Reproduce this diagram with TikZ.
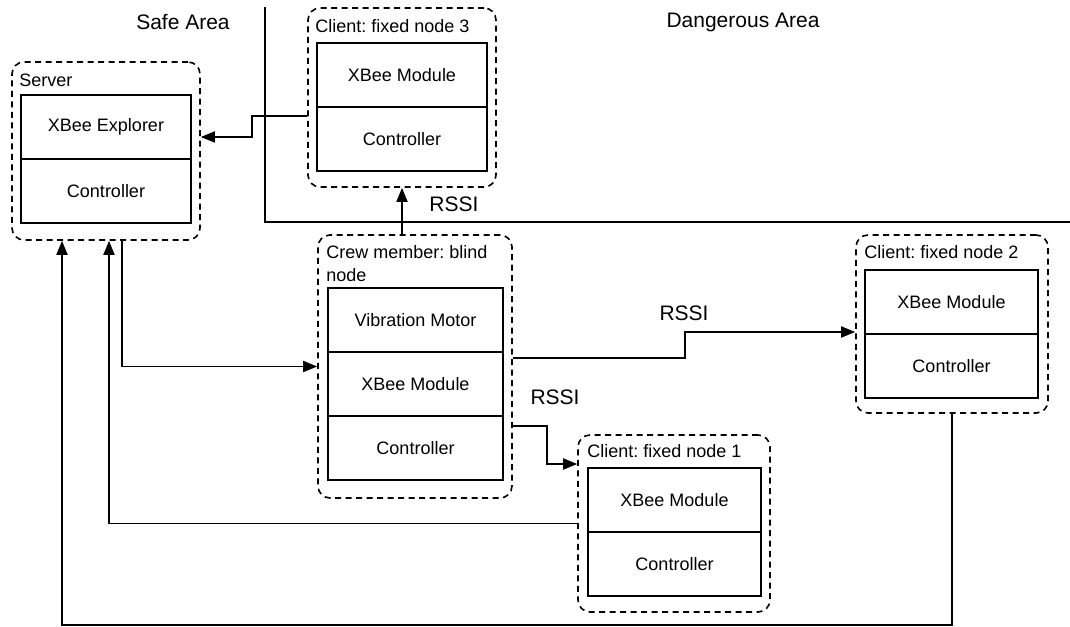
\documentclass[tikz,border=0pt]{standalone}
\usepackage{fontspec}
\setmainfont{Liberation Sans}
\usetikzlibrary{positioning,arrows.meta}
\frenchspacing

\begin{document}
\begin{tikzpicture}[x=1pt, y=-1pt,
    group/.style={draw, line width=1.6pt, dash pattern=on 6pt off 4.5pt, rounded corners=12pt, inner sep=0},
    grouplbl/.style={inner sep=0, anchor=west, font=\fontsize{18}{23}\selectfont},
    cell/.style={draw, line width=1.8pt, inner sep=0, outer sep=0, minimum width=170pt, minimum height=64pt, font=\fontsize{18}{22}\selectfont},
    biglbl/.style={inner sep=0, font=\fontsize{21}{25}\selectfont},
    link/.style={line width=1.8pt, -{Triangle[length=14pt,width=11pt]}}]
  \useasboundingbox (0,0) rectangle (1070,626);

  % areas
  \draw[line width=1.8pt] (265,7) -- (265,222) -- (1070,222);
  \node (safe) at (183,22) [biglbl] {Safe Area};
  \node (danger) at (743,22) [biglbl] {Dangerous Area};

  % server
  \node (server) at (106,151) [group, minimum width=188pt, minimum height=178pt] {};
  \node (serverlbl) at ([shift={(8pt,-19pt)}]server.north west) [grouplbl] {Server};
  \node (servera) at (106,127) [cell] {XBee Explorer};
  \node (serverb) [cell, below=0pt of servera] {Controller};

  % client 3
  \node (c3) at (402,97.5) [group, minimum width=188pt, minimum height=179pt] {};
  \node (c3lbl) at ([shift={(8pt,-19pt)}]c3.north west) [grouplbl] {Client: fixed node 3};
  \node (c3a) at (402,75) [cell] {XBee Module};
  \node (c3b) [cell, below=0pt of c3a] {Controller};

  % crew member
  \node (crew) at (415,366.5) [group, minimum width=194pt, minimum height=263pt] {};
  \node (crewlbl) at ([shift={(9pt,-11pt)}]crew.north west) [grouplbl, anchor=north west, align=left] {Crew member: blind\\node};
  \node (crewa) at (415.5,320) [cell, minimum width=175pt] {Vibration Motor};
  \node (crewb) [cell, minimum width=175pt, below=0pt of crewa] {XBee Module};
  \node (crewc) [cell, minimum width=175pt, below=0pt of crewb] {Controller};

  % client 2
  \node (c2) at (952,324) [group, minimum width=192pt, minimum height=178pt] {};
  \node (c2lbl) at ([shift={(9pt,-18pt)}]c2.north west) [grouplbl] {Client: fixed node 2};
  \node (c2a) at (951.5,302) [cell, minimum width=173pt] {XBee Module};
  \node (c2b) [cell, minimum width=173pt, below=0pt of c2a] {Controller};

  % client 1
  \node (c1) at (674,523.5) [group, minimum width=192pt, minimum height=177pt] {};
  \node (c1lbl) at ([shift={(10pt,-17pt)}]c1.north west) [grouplbl] {Client: fixed node 1};
  \node (c1a) at (674.5,500) [cell, minimum width=173pt] {XBee Module};
  \node (c1b) [cell, minimum width=173pt, below=0pt of c1a] {Controller};

  % links
  \draw[link] ([yshift=-18.5pt]c3.west) -- ++(-55,0) |- ([yshift=14pt]server.east);
  \draw[link] (c3.south |- crew.north) -- (c3.south);
  \draw[link] ([xshift=16pt]server.south) |- (crew.west);
  \draw[link] ([yshift=8.5pt]crew.east) -- ++(172,0) |- ([yshift=-8pt]c2.west);
  \draw[link] ([yshift=-59.5pt]crew.east) -- ++(34,0) |- ([yshift=59.5pt]c1.west);
  \draw[link] (c1.west) -| ([xshift=3pt]server.south);
  \draw[link] (c2.south) -- ++(0,211) -| ([xshift=-44pt]server.south);

  \node (rssi3) at (454,204) [biglbl] {RSSI};
  \node (rssi2) at (684,313) [biglbl] {RSSI};
  \node (rssi1) at (555,397) [biglbl] {RSSI};
\end{tikzpicture}
\end{document}
